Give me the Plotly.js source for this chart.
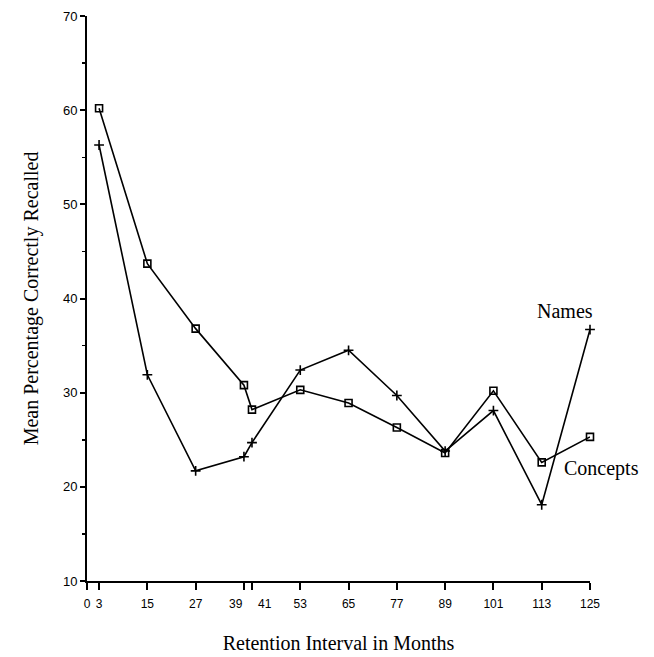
<!DOCTYPE html>
<html>
<head>
<meta charset="utf-8">
<script src="https://cdn.plot.ly/plotly-3.0.1.min.js"></script>
<style>html,body{margin:0;padding:0;background:#fff;}#chart{width:654px;height:657px;}</style>
</head>
<body>
<div id="chart"></div>
<script>
const months = [3, 15, 27, 39, 41, 53, 65, 77, 89, 101, 113, 125];
const concepts = [60.2, 43.7, 36.8, 30.8, 28.2, 30.3, 28.9, 26.3, 23.6, 30.2, 22.6, 25.3];
const names = [56.3, 31.9, 21.7, 23.2, 24.7, 32.4, 34.5, 29.7, 23.8, 28.1, 18.1, 36.7];
const xTicks = [0, 3, 15, 27, 39, 41, 53, 65, 77, 89, 101, 113, 125];
// 39 and 41 are drawn as nudged annotations (as in the reference) so they do not collide
const xTickText = ['0', '3', '15', '27', '', '', '53', '65', '77', '89', '101', '113', '125'];
const nudgedTicks = [39, 41];
const nudgedText = ['39', '41'];
const nudgedShift = [-8, 13];
const yTicks = [10, 20, 30, 40, 50, 60, 70];

const serif = '"Liberation Serif", "Times New Roman", serif';
const sans = '"Liberation Sans", Arial, sans-serif';

const traces = [
  {x: months, y: concepts, mode: 'lines+markers', name: 'Concepts',
   line: {color: '#000', width: 1.6},
   marker: {symbol: 'square-open', size: 7, color: '#000', line: {width: 1.6, color: '#000'}},
   cliponaxis: false},
  {x: months, y: names, mode: 'lines+markers', name: 'Names',
   line: {color: '#000', width: 1.6},
   marker: {symbol: 'cross-thin-open', size: 7, color: '#000', line: {width: 1.6, color: '#000'}},
   cliponaxis: false}
];

const annotations = [
  {x: 0.950, y: 0.478, xref: 'paper', yref: 'paper', xanchor: 'center', yanchor: 'middle',
   text: 'Names', showarrow: false, font: {family: serif, size: 20, color: '#000'}},
  {x: 1.023, y: 0.200, xref: 'paper', yref: 'paper', xanchor: 'center', yanchor: 'middle',
   text: 'Concepts', showarrow: false, font: {family: serif, size: 20, color: '#000'}}
];
nudgedTicks.forEach((v, i) => {
  annotations.push({x: v, y: 0, xref: 'x', yref: 'paper', xanchor: 'center', yanchor: 'top',
    xshift: nudgedShift[i], yshift: -14, text: nudgedText[i], showarrow: false,
    font: {family: sans, size: 12, color: '#000'}});
});

const layout = {
  width: 654, height: 657,
  margin: {l: 87, r: 64, t: 16, b: 76},
  paper_bgcolor: '#fff', plot_bgcolor: '#fff',
  showlegend: false,
  font: {family: sans, color: '#000', size: 12},
  xaxis: {
    range: [0, 125], tickvals: xTicks, ticktext: xTickText, tickangle: 0,
    showgrid: false, zeroline: false, showline: true, linecolor: '#000', linewidth: 2,
    ticks: 'outside', ticklen: 7, tickwidth: 2, tickcolor: '#000',
    ticklabelstandoff: 4,
    tickfont: {size: 12},
    title: {text: 'Retention Interval in Months', standoff: 26,
            font: {family: serif, size: 20}}
  },
  yaxis: {
    range: [10, 70], tickvals: yTicks,
    showgrid: false, zeroline: false, showline: true, linecolor: '#000', linewidth: 2,
    ticks: 'outside', ticklen: 5, tickwidth: 2, tickcolor: '#000',
    minor: {dtick: 5, tick0: 5, ticks: 'outside', ticklen: 3, tickwidth: 1.5, tickcolor: '#000', showgrid: false},
    tickfont: {size: 13},
    title: {text: 'Mean Percentage Correctly Recalled', standoff: 19,
            font: {family: serif, size: 20}}
  },
  annotations: annotations
};

Plotly.newPlot('chart', traces, layout, {displayModeBar: false, staticPlot: true});
</script>
</body>
</html>
